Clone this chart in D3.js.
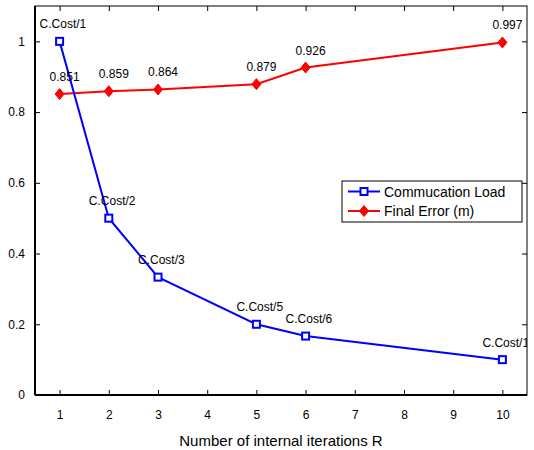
<!DOCTYPE html>
<html>
<head>
<meta charset="utf-8">
<script src="https://cdn.jsdelivr.net/npm/d3@7"></script>
<style>
  html, body { margin: 0; padding: 0; background: #fff; }
  svg { display: block; font-family: "Liberation Sans", Arial, Helvetica, sans-serif; }
</style>
</head>
<body>
<svg id="chart" width="534" height="450"></svg>
<script>
// Internal iteration counts R
const iterations = [1, 2, 3, 5, 6, 10];
// Normalised communication load (cost divided by R)
const commLoad = [1, 1 / 2, 1 / 3, 1 / 5, 1 / 6, 1 / 10];
const commLabels = ["C.Cost/1", "C.Cost/2", "C.Cost/3", "C.Cost/5", "C.Cost/6", "C.Cost/10"];
// Final localisation error in metres
const finalError = [0.851, 0.859, 0.864, 0.879, 0.926, 0.997];
const errorLabels = ["0.851", "0.859", "0.864", "0.879", "0.926", "0.997"];
const xTicks = [1, 2, 3, 4, 5, 6, 7, 8, 9, 10];
const yTicks = [0, 0.2, 0.4, 0.6, 0.8, 1];
const seriesNames = ["Commucation Load", "Final Error (m)"];

const svg = d3.select("#chart");
const plotLeft = 35, plotRight = 527, plotTop = 6, plotBottom = 395;

const x = d3.scaleLinear().domain([0.5, 10.5]).range([plotLeft, plotRight]);
const y = d3.scaleLinear().domain([0, 1.1]).range([plotBottom, plotTop]);

svg.append("defs").append("clipPath").attr("id", "plotClip")
  .append("rect").attr("x", plotLeft).attr("y", plotTop)
  .attr("width", plotRight - plotLeft).attr("height", plotBottom - plotTop);

// Axes with inward ticks on all four sides
const tickLen = 5;
svg.append("g").attr("transform", `translate(0,${plotBottom})`)
  .call(d3.axisBottom(x).tickValues(xTicks).tickSizeInner(-tickLen).tickSizeOuter(0).tickPadding(15).tickFormat(d3.format("d")))
  .call(g => g.select(".domain").remove());
svg.append("g").attr("transform", `translate(0,${plotTop})`)
  .call(d3.axisTop(x).tickValues(xTicks).tickSizeInner(-tickLen).tickSizeOuter(0).tickFormat(""))
  .call(g => g.select(".domain").remove());
svg.append("g").attr("transform", `translate(${plotLeft},0)`)
  .call(d3.axisLeft(y).tickValues(yTicks).tickSizeInner(-tickLen).tickSizeOuter(0).tickPadding(10).tickFormat(d3.format("~g")))
  .call(g => g.select(".domain").remove());
svg.append("g").attr("transform", `translate(${plotRight},0)`)
  .call(d3.axisRight(y).tickValues(yTicks).tickSizeInner(-tickLen).tickSizeOuter(0).tickFormat(""))
  .call(g => g.select(".domain").remove());

svg.selectAll(".tick line").attr("stroke", "#000").attr("stroke-width", 1);
svg.selectAll(".tick text").attr("font-size", 12).attr("fill", "#000")
  .attr("font-family", "'Liberation Sans', Arial, sans-serif");

// Frame
svg.append("rect").attr("x", plotLeft).attr("y", plotTop)
  .attr("width", plotRight - plotLeft).attr("height", plotBottom - plotTop)
  .attr("fill", "none").attr("stroke", "#000").attr("stroke-width", 1);
svg.append("line").attr("x1", plotLeft).attr("x2", plotRight).attr("y1", plotBottom).attr("y2", plotBottom)
  .attr("stroke", "#000").attr("stroke-width", 2);
svg.append("line").attr("x1", plotLeft).attr("x2", plotLeft).attr("y1", plotTop).attr("y2", plotBottom)
  .attr("stroke", "#000").attr("stroke-width", 2);

const plot = svg.append("g").attr("clip-path", "url(#plotClip)");
const line = d3.line().x(d => x(d[0])).y(d => y(d[1]));

const commPts = iterations.map((r, i) => [r, commLoad[i]]);
const errPts = iterations.map((r, i) => [r, finalError[i]]);

const diamond = (cx, cy, w, h) => `M${cx},${cy - h}L${cx + w},${cy}L${cx},${cy + h}L${cx - w},${cy}Z`;

// Final error series
plot.append("path").datum(errPts).attr("d", line)
  .attr("fill", "none").attr("stroke", "#ff0000").attr("stroke-width", 2);
plot.selectAll(".errMark").data(errPts).enter().append("path")
  .attr("d", d => diamond(x(d[0]), y(d[1]), 4.5, 5.5))
  .attr("fill", "#ff0000").attr("stroke", "#ff0000").attr("stroke-width", 1);

// Communication load series
plot.append("path").datum(commPts).attr("d", line)
  .attr("fill", "none").attr("stroke", "#0000ff").attr("stroke-width", 2);
plot.selectAll(".commMark").data(commPts).enter().append("rect")
  .attr("x", d => x(d[0]) - 3.5).attr("y", d => y(d[1]) - 3.5)
  .attr("width", 7).attr("height", 7)
  .attr("fill", "#fff").attr("stroke", "#0000ff").attr("stroke-width", 2);

// Value labels, left-aligned a little to the left of each point
plot.selectAll(".commLbl").data(commPts).enter().append("text")
  .attr("x", d => x(d[0]) - 20).attr("y", d => y(d[1]) - 13)
  .attr("text-anchor", "start").attr("font-size", 12).attr("fill", "#000")
  .text((d, i) => commLabels[i]);
plot.selectAll(".errLbl").data(errPts).enter().append("text")
  .attr("x", d => x(d[0]) - 10).attr("y", d => y(d[1]) - 13)
  .attr("text-anchor", "start").attr("font-size", 12).attr("fill", "#000")
  .text((d, i) => errorLabels[i]);

// Axis title
svg.append("text").attr("x", (plotLeft + plotRight) / 2).attr("y", 446)
  .attr("text-anchor", "middle").attr("font-size", 15).attr("fill", "#000")
  .text("Number of internal iterations R");

// Legend
const lg = svg.append("g").attr("transform", "translate(342,181)");
lg.append("rect").attr("width", 180).attr("height", 41)
  .attr("fill", "#fff").attr("stroke", "#000").attr("stroke-width", 1);
const rowY = [10.5, 30];
lg.append("line").attr("x1", 6).attr("x2", 38).attr("y1", rowY[0]).attr("y2", rowY[0])
  .attr("stroke", "#0000ff").attr("stroke-width", 2);
lg.append("rect").attr("x", 22 - 3.5).attr("y", rowY[0] - 3.5).attr("width", 7).attr("height", 7)
  .attr("fill", "#fff").attr("stroke", "#0000ff").attr("stroke-width", 2);
lg.append("line").attr("x1", 6).attr("x2", 38).attr("y1", rowY[1]).attr("y2", rowY[1])
  .attr("stroke", "#ff0000").attr("stroke-width", 2);
lg.append("path").attr("d", diamond(22, rowY[1], 4.5, 5.5))
  .attr("fill", "#ff0000").attr("stroke", "#ff0000").attr("stroke-width", 1);
seriesNames.forEach((name, i) => {
  lg.append("text").attr("x", 42).attr("y", rowY[i] + 5)
    .attr("font-size", 14).attr("fill", "#000").text(name);
});
</script>
</body>
</html>
